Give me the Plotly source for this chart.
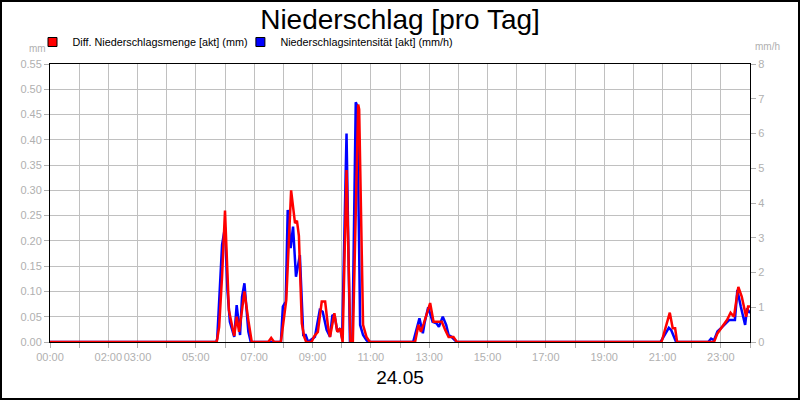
import plotly.graph_objects as go

# values (24.05)
RED_TIMES = [
    "00:00", "05:43", "05:48", "05:54", "06:00", "06:08", "06:15", "06:19", "06:24", "06:29",
    "06:35", "06:40", "06:48", "06:55", "07:29", "07:35", "07:41", "07:55", "08:06", "08:16",
    "08:24", "08:28", "08:32", "08:38", "08:43", "08:47", "08:58", "09:04", "09:11", "09:19",
    "09:26", "09:32", "09:36", "09:45", "09:51", "09:57", "10:02", "10:10", "10:18", "10:23",
    "10:34", "10:36", "10:44", "10:51", "10:58", "12:31", "12:38", "12:43", "12:49", "13:02",
    "13:09", "13:15", "13:26", "13:33", "13:40", "13:50", "13:57", "20:58", "21:15", "21:21",
    "21:26", "21:30", "22:46", "22:53", "22:58", "23:05", "23:13", "23:20", "23:27", "23:36",
    "23:43", "23:52", "23:56", "24:00",
]
RED_MM = [
    0, 0, 0.03, 0.13, 0.26, 0.063, 0.03, 0.012, 0.05, 0.02,
    0.063, 0.1, 0.043, 0, 0, 0.008, 0, 0, 0.083, 0.30,
    0.235, 0.24, 0.21, 0.037, 0.01, 0, 0, 0.012, 0.02, 0.08,
    0.08, 0.03, 0.01, 0.057, 0.02, 0.027, 0, 0.34, 0, 0,
    0.47, 0.46, 0.034, 0.01, 0, 0, 0.034, 0.02, 0.037, 0.077,
    0.04, 0.04, 0.04, 0.024, 0.01, 0.01, 0, 0, 0.058, 0.027,
    0.027, 0, 0, 0.017, 0.024, 0.034, 0.044, 0.058, 0.05, 0.109,
    0.09, 0.05, 0.07, 0.07,
]

BLUE_TIMES = [
    "00:00", "05:42", "05:44", "05:49", "05:54", "06:00", "06:05", "06:10", "06:15", "06:19",
    "06:24", "06:31", "06:35", "06:40", "06:48", "06:53", "07:55", "07:59", "08:05", "08:09",
    "08:15", "08:20", "08:26", "08:34", "08:41", "08:46", "08:51", "09:05", "09:15", "09:21",
    "09:29", "09:36", "09:41", "09:46", "09:51", "09:57", "10:01", "10:10", "10:17", "10:22",
    "10:29", "10:32", "10:38", "10:44", "10:51", "10:55", "12:27", "12:40", "12:47", "12:51",
    "12:58", "13:07", "13:15", "13:20", "13:28", "13:35", "13:40", "13:46", "13:53", "13:57",
    "20:56", "21:13", "21:18", "21:26", "21:28", "22:34", "22:40", "22:46", "22:53", "23:02",
    "23:10", "23:17", "23:29", "23:34", "23:41", "23:50", "23:54", "24:00",
]
BLUE_MMH = [
    0, 0, 0.1, 1.5, 2.8, 3.3, 1.5, 0.58, 0.3, 0.15,
    1.06, 0.2, 1.3, 1.69, 0.3, 0, 0, 1.02, 1.16, 3.8,
    2.7, 3.32, 1.88, 2.5, 0.2, 0.2, 0, 0.15, 0.92, 0.87,
    0.35, 0.15, 0.78, 0.72, 0.3, 0.39, 0.1, 6.0, 0, 0,
    6.9, 6.8, 0.49, 0.2, 0.05, 0, 0, 0.68, 0.25, 0.58,
    1.0, 0.58, 0.54, 0.44, 0.73, 0.49, 0.2, 0.15, 0.05, 0,
    0, 0.41, 0.34, 0.1, 0, 0, 0.1, 0.05, 0.3, 0.42,
    0.54, 0.63, 0.63, 1.5, 1.02, 0.49, 0.97, 0.83,
]

# hourly ticks, only some of them labelled (as in the original)
HOURS = list(range(25))
XTICK_LABELS = ["00:00", "", "02:00", "03:00", "", "05:00", "", "07:00", "", "09:00", "", "11:00", "",
                "13:00", "", "15:00", "", "17:00", "", "19:00", "", "21:00", "", "23:00", ""]

MM_MAX = 0.55
MMH_MAX = 8

RED_NAME = "Diff. Niederschlagsmenge [akt] (mm)"
BLUE_NAME = "Niederschlagsintensität [akt] (mm/h)"

GRID = "#c0c0c0"
TICKTXT = "#b0b0b0"
FONT = "Arial, Liberation Sans, sans-serif"


def to_hours(t):
    h, m = t.split(":")
    return int(h) + int(m) / 60


fig = go.Figure()

# blue on the base axis, red on the overlaying one so red is drawn on top
fig.add_trace(go.Scatter(
    x=[to_hours(t) for t in BLUE_TIMES], y=BLUE_MMH, yaxis="y",
    mode="lines", line=dict(color="#0000ff", width=2.5), showlegend=False,
))
fig.add_trace(go.Scatter(
    x=[to_hours(t) for t in RED_TIMES], y=RED_MM, yaxis="y2",
    mode="lines", line=dict(color="#ff0000", width=2.5), showlegend=False,
))

# square legend entries, one small legend each
for name, colour, leg in [(RED_NAME, "#ff0000", "legend"), (BLUE_NAME, "#0000ff", "legend2")]:
    fig.add_trace(go.Scatter(
        x=[None], y=[None], mode="markers", name=name, legend=leg,
        marker=dict(symbol="square", size=9, color=colour, line=dict(color="black", width=1)),
    ))

W, H = 800, 400
ML, MR, MT, MB = 50, 50, 64, 58
PW, PH = W - ML - MR, H - MT - MB

legend_style = dict(orientation="h", xanchor="left", y=1 + 22 / PH, yanchor="middle",
                    font=dict(family=FONT, size=10.8, color="black"),
                    bgcolor="rgba(0,0,0,0)", itemwidth=30)

fig.update_layout(
    width=W, height=H,
    margin=dict(l=ML, r=MR, t=MT, b=MB),
    paper_bgcolor="white", plot_bgcolor="white",
    font=dict(family=FONT, size=11, color="black"),
    title=dict(text="Niederschlag [pro Tag]", x=0.5, xanchor="center", y=1 - 19 / H, yanchor="middle",
               font=dict(size=28, color="black")),
    legend=dict(x=-0.025, **legend_style),
    legend2=dict(x=0.272, **legend_style),
    xaxis=dict(
        range=[0, 24], tickmode="array", tickvals=HOURS, ticktext=XTICK_LABELS, tickangle=0,
        showgrid=True, gridcolor=GRID, gridwidth=1, zeroline=False,
        showline=True, linecolor="black", linewidth=1, mirror=True,
        ticks="outside", ticklen=5, tickcolor=TICKTXT,
        tickfont=dict(size=11, color=TICKTXT),
        title=dict(text="24.05", font=dict(size=19, color="black"), standoff=8),
    ),
    # mm/h on the right; its minor grid follows the 0.05 mm steps of the left axis
    yaxis=dict(
        range=[0, MMH_MAX], tick0=0, dtick=1, side="right",
        showgrid=False, zeroline=False,
        minor=dict(tick0=0, dtick=MMH_MAX / (MM_MAX / 0.05), showgrid=True, gridcolor=GRID, gridwidth=1),
        showline=True, linecolor="black", linewidth=1,
        ticks="outside", ticklen=5, tickcolor=TICKTXT,
        tickfont=dict(size=11, color=TICKTXT),
    ),
    yaxis2=dict(
        range=[0, MM_MAX], tick0=0, dtick=0.05, tickformat=".2f", overlaying="y", side="left",
        showgrid=False, zeroline=False,
        showline=True, linecolor="black", linewidth=1,
        ticks="outside", ticklen=5, tickcolor=TICKTXT,
        tickfont=dict(size=11, color=TICKTXT),
    ),
    annotations=[
        dict(text="mm", xref="paper", yref="paper", x=-2 / PW, y=1 + 15 / PH,
             xanchor="right", yanchor="middle", showarrow=False, font=dict(size=10, color=TICKTXT)),
        dict(text="mm/h", xref="paper", yref="paper", x=1 + 3 / PW, y=1 + 17 / PH,
             xanchor="left", yanchor="middle", showarrow=False, font=dict(size=10, color=TICKTXT)),
    ],
    shapes=[
        dict(type="rect", xref="paper", yref="paper",
             x0=-(ML - 1) / PW, x1=1 + (MR - 1) / PW, y0=-(MB - 1) / PH, y1=1 + (MT - 1) / PH,
             line=dict(color="black", width=2), layer="below"),
    ],
)

fig.write_html("out.html", config={"displayModeBar": False},
               post_script="document.body.style.margin='0';")
